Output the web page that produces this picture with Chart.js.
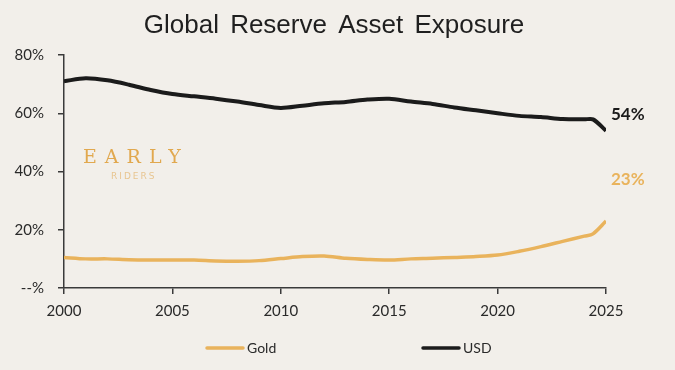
<!DOCTYPE html>
<html lang="en">
<head>
  <meta charset="UTF-8" />
  <title>Global Reserve Asset Exposure</title>
  <script src="https://cdn.jsdelivr.net/npm/chart.js"></script>
  <style>
    html, body { margin: 0; padding: 0; background: #f2efea; }
    .wrap { width: 675px; height: 370px; position: relative; }
  </style>
</head>
<body>
<div class="wrap"><canvas id="chart" width="675" height="370"></canvas></div>
<script>
  // years (one extra point just before the 2025 drop)
  const years = [2000, 2001, 2002, 2003, 2004, 2005, 2006, 2007, 2008, 2009, 2010, 2011, 2012,
                 2013, 2014, 2015, 2016, 2017, 2018, 2019, 2020, 2021, 2022, 2023, 2024, 2024.4, 2025];
  const usdShare = [71.0, 72.0, 71.3, 69.8, 68.0, 66.6, 65.8, 65.0, 64.0, 62.8, 61.8, 62.6, 63.4,
                    63.9, 64.7, 65.0, 64.0, 63.2, 62.0, 61.0, 60.0, 59.1, 58.7, 58.0, 57.9, 57.9, 54.0];
  const goldShare = [10.5, 10.0, 10.0, 9.7, 9.6, 9.6, 9.6, 9.3, 9.2, 9.4, 10.1, 10.8, 11.0,
                     10.2, 9.8, 9.6, 10.0, 10.2, 10.5, 10.8, 11.3, 12.6, 14.2, 16.0, 17.8, 18.6, 23.0];
  const yTicks = [0, 20, 40, 60, 80];
  const xTicks = [2000, 2005, 2010, 2015, 2020, 2025];

  const GOLD = '#e9b35c';
  const BLACK = '#1b1b1b';
  const AXIS = '#3a3a3a';
  const tickFont = { family: 'Lato, "Open Sans", sans-serif', size: 15 };

  const toPoints = vals => years.map((x, i) => ({ x: x, y: vals[i] }));

  // title, watermark, end labels and the legend
  const decor = {
    id: 'decor',
    afterDraw(chart) {
      const ctx = chart.ctx;
      const xs = chart.scales.x, ys = chart.scales.y;
      ctx.save();
      ctx.fillStyle = '#1f1f1f';
      ctx.font = '26px "Liberation Sans", Arial, sans-serif';
      ctx.textAlign = 'center';
      ctx.textBaseline = 'middle';
      ctx.wordSpacing = '4px';
      ctx.fillText('Global Reserve Asset Exposure', 334, 26);
      ctx.wordSpacing = '0px';

      // watermark
      ctx.fillStyle = '#e1a84e';
      ctx.font = '19px "DejaVu Serif", serif';
      ctx.letterSpacing = '8px';
      ctx.textAlign = 'left';
      ctx.fillText('EARLY', 83, 158);
      ctx.fillStyle = '#e8c590';
      ctx.font = '9px "DejaVu Sans", sans-serif';
      ctx.letterSpacing = '2px';
      ctx.fillText('RIDERS', 111, 177);
      ctx.letterSpacing = '0px';

      // end labels
      const xe = xs.getPixelForValue(2025) + 5;
      ctx.font = 'bold 17px Lato, sans-serif';
      ctx.fillStyle = BLACK;
      ctx.fillText(usdShare[usdShare.length - 1].toFixed(0) + '%', xe, ys.getPixelForValue(59.7));
      ctx.fillStyle = GOLD;
      ctx.fillText(goldShare[goldShare.length - 1].toFixed(0) + '%', xe, ys.getPixelForValue(37.1));

      // legend
      const items = [{ label: 'Gold', color: GOLD, x: 207 }, { label: 'USD', color: BLACK, x: 423 }];
      ctx.font = '14px Lato, sans-serif';
      ctx.lineCap = 'round';
      items.forEach(it => {
        ctx.strokeStyle = it.color;
        ctx.lineWidth = 3.5;
        ctx.beginPath();
        ctx.moveTo(it.x, 348);
        ctx.lineTo(it.x + 36, 348);
        ctx.stroke();
        ctx.fillStyle = '#2a2a2a';
        ctx.fillText(it.label, it.x + 40, 348);
      });
      ctx.restore();
    }
  };

  new Chart(document.getElementById('chart'), {
    type: 'line',
    data: {
      datasets: [
        { label: 'Gold', data: toPoints(goldShare), borderColor: GOLD, borderWidth: 3.5, tension: 0.3, pointRadius: 0 },
        { label: 'USD', data: toPoints(usdShare), borderColor: BLACK, borderWidth: 4, tension: 0.3, pointRadius: 0 }
      ]
    },
    options: {
      responsive: false,
      animation: false,
      layout: { padding: { left: 0, right: 69, top: 55, bottom: 42 } },
      plugins: { legend: { display: false }, title: { display: false }, tooltip: { enabled: false } },
      scales: {
        x: {
          type: 'linear',
          min: 2000, max: 2025,
          afterBuildTicks: s => { s.ticks = xTicks.map(v => ({ value: v })); },
          ticks: { color: '#2a2a2a', font: tickFont, padding: 8, callback: v => String(v) },
          grid: { display: true, drawOnChartArea: false, drawTicks: true, tickLength: 6, color: AXIS, lineWidth: 1.5 },
          border: { display: true, color: AXIS, width: 1.5 }
        },
        y: {
          min: 0, max: 80,
          afterBuildTicks: s => { s.ticks = yTicks.map(v => ({ value: v })); },
          afterFit: s => { s.width = 64; },
          ticks: { color: '#2a2a2a', font: tickFont, padding: 14, callback: v => v === 0 ? '--%' : v + '%' },
          grid: { display: true, drawOnChartArea: false, drawTicks: true, tickLength: 6, color: AXIS, lineWidth: 1.5 },
          border: { display: true, color: AXIS, width: 1.5 }
        }
      }
    },
    plugins: [decor]
  });
</script>
</body>
</html>
